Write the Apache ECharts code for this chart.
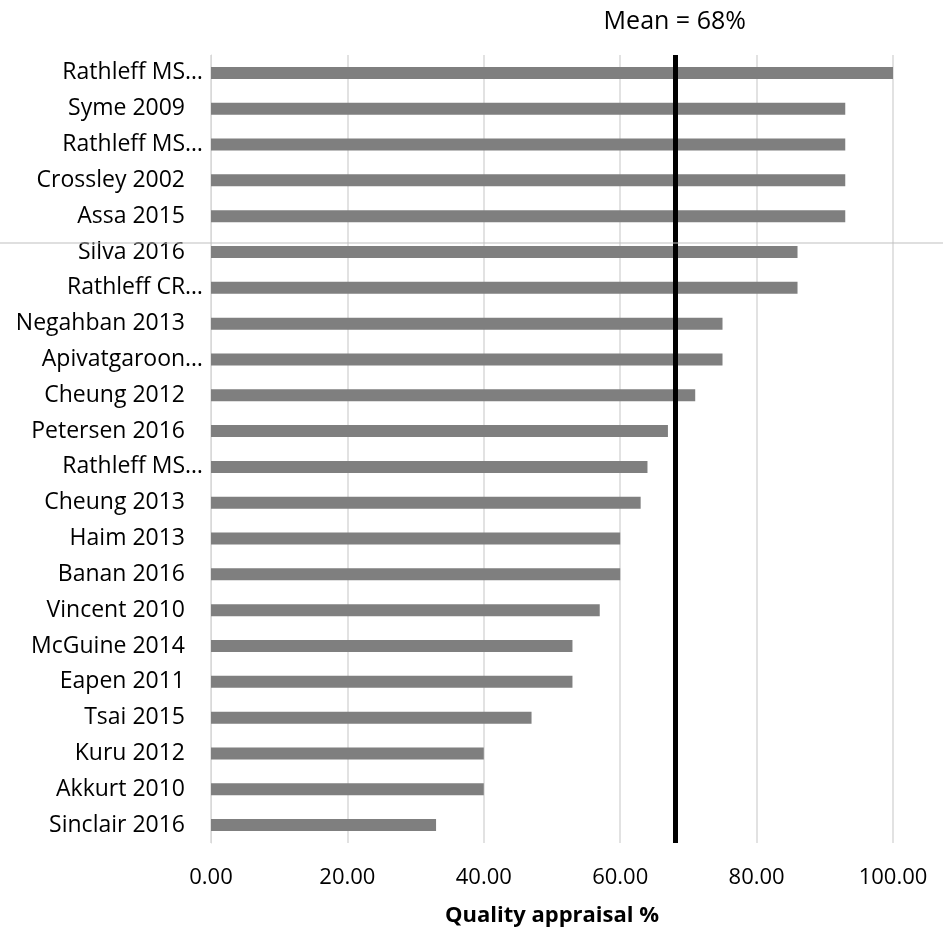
<!DOCTYPE html>
<html>
<head>
<meta charset="utf-8">
<script src="https://cdn.jsdelivr.net/npm/echarts@6/dist/echarts.min.js"></script>
<style>
  html, body { margin: 0; padding: 0; background: #fff; }
  #chart { width: 943px; height: 933px; }
</style>
</head>
<body>
<div id="chart"></div>
<script>
// Studies, listed top to bottom (long names are shown shortened)
const studies = [
  'Rathleff MS\u2026', 'Syme 2009', 'Rathleff MS\u2026', 'Crossley 2002', 'Assa 2015',
  'Silva 2016', 'Rathleff CR\u2026', 'Negahban 2013', 'Apivatgaroon\u2026', 'Cheung 2012',
  'Petersen 2016', 'Rathleff MS\u2026', 'Cheung 2013', 'Haim 2013', 'Banan 2016',
  'Vincent 2010', 'McGuine 2014', 'Eapen 2011', 'Tsai 2015', 'Kuru 2012',
  'Akkurt 2010', 'Sinclair 2016'
];

// Quality appraisal score (%) per study
const scores = [
  100, 93, 93, 93, 93,
  86, 86, 75, 75, 71,
  67, 64, 63, 60, 60,
  57, 53, 53, 47, 40,
  40, 33
];

// Mean quality score (%)
const meanScore = 68;

const xTicks = { min: 0, max: 100, interval: 20 };

const chart = echarts.init(document.getElementById('chart'), null, { renderer: 'canvas' });
const font = 'Open Sans, Noto Sans, sans-serif';

chart.setOption({
  animation: false,
  backgroundColor: '#ffffff',
  grid: {
    left: 211, right: 50, top: 55, bottom: 90,
    containLabel: false,
    outerBoundsMode: 'none'
  },
  xAxis: {
    type: 'value',
    min: xTicks.min,
    max: xTicks.max,
    interval: xTicks.interval,
    axisLine: { show: false },
    axisTick: { show: false },
    splitLine: { show: true, lineStyle: { color: '#d9d9d9', width: 1.5 } },
    axisLabel: {
      margin: 24,
      fontFamily: font,
      fontSize: 22,
      color: '#000',
      formatter: v => v.toFixed(2)
    },
    name: 'Quality appraisal %',
    nameLocation: 'middle',
    nameGap: 62,
    nameTextStyle: { fontFamily: font, fontSize: 22, fontWeight: 'bold', color: '#000' }
  },
  yAxis: {
    type: 'category',
    inverse: true,
    data: studies,
    axisLine: { show: true, lineStyle: { color: '#d9d9d9', width: 1 } },
    axisTick: { show: false },
    splitLine: { show: false },
    axisLabel: {
      margin: 8,
      interval: 0,
      // full names sit a little further from the axis than shortened ones
      formatter: name => name.endsWith('\u2026') ? '{cut|' + name + '}' : '{full|' + name + '}',
      rich: {
        cut: { fontFamily: font, fontSize: 23, color: '#000' },
        full: { fontFamily: font, fontSize: 23, color: '#000', padding: [0, 18, 0, 0] }
      }
    }
  },
  series: [{
    type: 'bar',
    data: scores,
    barWidth: 12,
    itemStyle: { color: '#7f7f7f' },
    markLine: {
      silent: true,
      symbol: ['none', 'none'],
      lineStyle: { color: '#000', width: 5, type: 'solid' },
      label: {
        show: true,
        position: 'start',
        formatter: 'Mean = ' + meanScore + '%',
        fontFamily: font,
        fontSize: 25,
        color: '#000',
        distance: 21
      },
      data: [{ xAxis: meanScore }]
    }
  }],
  graphic: [{
    type: 'line',
    shape: { x1: 0, y1: 243, x2: 943, y2: 243 },
    style: { stroke: '#bfbfbf', lineWidth: 1 },
    z: 10
  }]
});
</script>
</body>
</html>
